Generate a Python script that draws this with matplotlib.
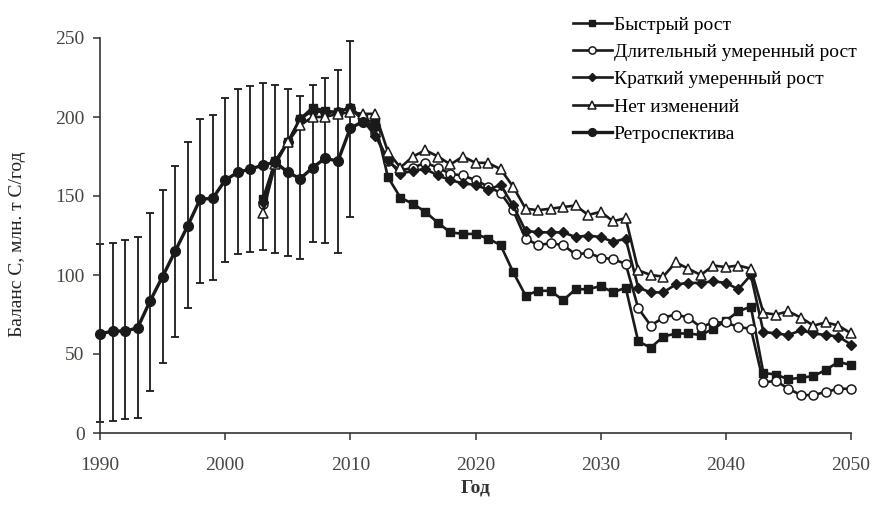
import numpy as np
import matplotlib
matplotlib.use("Agg")
import matplotlib.pyplot as plt

plt.rcParams["font.family"] = ["Liberation Serif", "DejaVu Serif"]

INK = "#1a1a1a"

# ---------- data ----------
years_retro = list(range(1990, 2013))
retro = [62.7, 64.5, 64.5, 66.5, 83.5, 99, 115, 131, 148, 148.5, 160, 165, 167,
         169.5, 171.5, 165, 161, 168, 174, 172, 193, 197, 194]
years_err = list(range(1990, 2011))
retro_hi = [119.6, 120, 122, 124, 139, 154, 169, 184, 199, 201, 212, 218, 219.5,
            221.5, 220, 218, 213, 220, 225, 230, 248]
retro_lo = [7, 7.6, 8.9, 9.5, 26.6, 44, 61, 79, 95, 97, 108, 113, 114.5,
            116, 114, 112, 110, 121, 120, 114, 136.7]

years_fc = list(range(2003, 2051))
fast = [148, 172, 184, 199, 206, 204, 203, 206, 199, 196,
        162, 149, 145, 140, 133, 127, 126, 126, 123, 119,
        102, 87, 90, 90, 84, 91, 91, 93, 89, 92,
        58, 54, 61, 63, 63, 62, 66, 71, 77, 80,
        38, 37, 34, 35, 36, 40, 45, 43]
long_mod = [145, 172, 184, 199, 204, 203, 203, 206, 198, 190,
            172, 166, 168, 171, 168, 164, 163, 160, 156, 152,
            141, 123, 119, 120, 119, 113, 114, 111, 110, 107,
            79, 68, 73, 75, 73, 67, 70, 70, 67, 66,
            32, 33, 28, 24, 24, 26, 28, 28]
short_mod = [146, 172, 184, 199, 204, 203, 203, 206, 198, 188,
             173, 164, 166, 167, 163, 160, 158, 157, 154, 157,
             144, 128, 127, 127, 127, 124, 125, 124, 121, 123,
             92, 89, 89, 94, 95, 95, 96, 95, 91, 100,
             64, 63, 62, 65, 63, 62, 61, 56]
no_change = [139, 170, 184, 195, 200, 200, 202, 203, 202, 202,
             178, 168, 175, 179, 175, 170, 175, 171, 171, 167,
             156, 142, 141, 142, 143, 144, 138, 140, 134, 136,
             103, 100, 99, 108, 104, 100, 106, 105, 106, 104,
             76, 75, 77, 73, 68, 70, 68, 63]

labels = ["Быстрый рост", "Длительный умеренный рост", "Краткий умеренный рост",
          "Нет изменений", "Ретроспектива"]

# ---------- figure ----------
fig = plt.figure(figsize=(8.74, 5.07), dpi=100)
ax = fig.add_axes([100 / 874, 74 / 507, 751 / 874, 395 / 507])

r_err = np.array(retro[:len(years_err)])
ax.errorbar(years_err, r_err,
            yerr=[r_err - np.array(retro_lo), np.array(retro_hi) - r_err],
            fmt="none", ecolor=INK, elinewidth=1.3, capsize=3, capthick=1.3,
            zorder=1, clip_on=False)

kw = dict(color=INK, lw=1.9, zorder=3, clip_on=False)
h1, = ax.plot(years_fc, fast, marker="s", ms=6, mfc=INK, mec=INK, **kw)
h2, = ax.plot(years_fc, long_mod, marker="o", ms=6.5, mfc="white", mec=INK, mew=1.1, **kw)
h3, = ax.plot(years_fc, short_mod, marker="D", ms=5.5, mfc=INK, mec=INK, **kw)
h4, = ax.plot(years_fc, no_change, marker="^", ms=7, mfc="white", mec=INK, mew=1.1, **kw)
h5, = ax.plot(years_retro, retro, marker="o", ms=7, mfc=INK, mec=INK, color=INK,
              lw=2.4, zorder=4, clip_on=False)

ax.set_xlim(1990, 2050)
ax.set_ylim(0, 250)
ax.set_xticks(range(1990, 2051, 10))
ax.set_yticks(range(0, 251, 50))
for s in ("top", "right"):
    ax.spines[s].set_visible(False)
for s in ("left", "bottom"):
    ax.spines[s].set_color("#333333")
    ax.spines[s].set_linewidth(1.2)
ax.tick_params(direction="out", length=5, width=1.1, colors="#333333",
               labelsize=14, labelcolor="#4a4440")
ax.tick_params(axis="x", pad=12)
ax.tick_params(axis="y", pad=6)

ax.set_xlabel("Год", fontsize=14, fontweight="bold", color="#333333", labelpad=4)
ax.set_ylabel("Баланс С, млн. т С/год", fontsize=14, color="#222222")
ax.yaxis.set_label_coords(-0.0985, 0.478)

fig.legend([h1, h2, h3, h4, h5], labels, loc="upper left",
           bbox_to_anchor=(573 / 874, 1 - 16 / 507), frameon=False,
           fontsize=14, handlelength=2.0, handletextpad=0.1,
           labelspacing=0.5, borderaxespad=0, borderpad=0, markerscale=0.8)

fig.savefig("out.png", dpi=100)
